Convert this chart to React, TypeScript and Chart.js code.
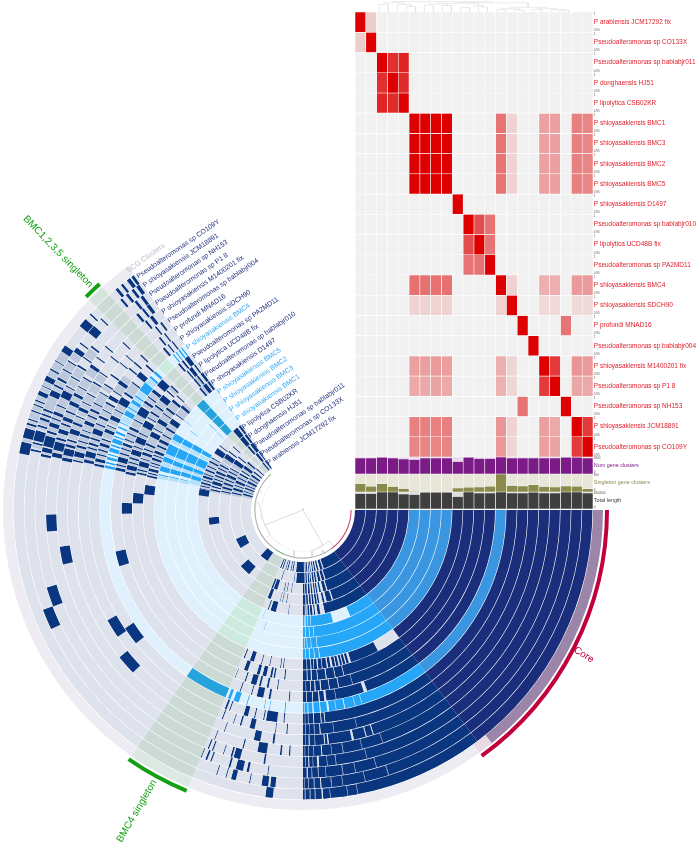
import React, { useEffect, useRef } from "react";
import { Chart, registerables } from "chart.js";

Chart.register(...registerables);

const FONT = '"Liberation Sans", Arial, sans-serif';

const genomes = [
  "P arabiensis JCM17292 fix", "Pseudoalteromonas sp CO133X", "Pseudoalteromonas sp bablabjr011", "P donghaensis HJ51",
  "P lipolytica CSB02KR", "P shioyasakiensis BMC1", "P shioyasakiensis BMC3", "P shioyasakiensis BMC2",
  "P shioyasakiensis BMC5", "P shioyasakiensis D1497", "Pseudoalteromonas sp bablabjr010", "P lipolytica UCD48B fix",
  "Pseudoalteromonas sp PA2MD11", "P shioyasakiensis BMC4", "P shioyasakiensis SDCH90", "P profundi MNAD16",
  "Pseudoalteromonas sp bablabjr004", "P shioyasakiensis M1400201 fix", "Pseudoalteromonas sp P1 8", "Pseudoalteromonas sp NH153",
  "P shioyasakiensis JCM18891", "Pseudoalteromonas sp CO109Y",
];
const highlighted = [5, 6, 7, 8, 13];

const similarity = [
  [1, .15, 0, 0, 0, 0, 0, 0, 0, 0, 0, 0, 0, 0, 0, 0, 0, 0, 0, 0, 0, 0],
  [.15, 1, 0, 0, 0, 0, 0, 0, 0, 0, 0, 0, 0, 0, 0, 0, 0, 0, 0, 0, 0, 0],
  [0, 0, 1, .8, .85, 0, 0, 0, 0, 0, 0, 0, 0, 0, 0, 0, 0, 0, 0, 0, 0, 0],
  [0, 0, .8, 1, .82, 0, 0, 0, 0, 0, 0, 0, 0, 0, 0, 0, 0, 0, 0, 0, 0, 0],
  [0, 0, .85, .82, 1, 0, 0, 0, 0, 0, 0, 0, 0, 0, 0, 0, 0, 0, 0, 0, 0, 0],
  [0, 0, 0, 0, 0, 1, 1, 1, 1, 0, 0, 0, 0, .52, .13, 0, 0, .33, .33, 0, .47, .45],
  [0, 0, 0, 0, 0, 1, 1, 1, 1, 0, 0, 0, 0, .52, .13, 0, 0, .33, .33, 0, .47, .45],
  [0, 0, 0, 0, 0, 1, 1, 1, 1, 0, 0, 0, 0, .52, .13, 0, 0, .33, .33, 0, .47, .45],
  [0, 0, 0, 0, 0, 1, 1, 1, 1, 0, 0, 0, 0, .52, .13, 0, 0, .33, .33, 0, .47, .45],
  [0, 0, 0, 0, 0, 0, 0, 0, 0, 1, 0, 0, 0, 0, 0, 0, 0, 0, 0, 0, 0, 0],
  [0, 0, 0, 0, 0, 0, 0, 0, 0, 0, 1, .68, .52, 0, 0, 0, 0, 0, 0, 0, 0, 0],
  [0, 0, 0, 0, 0, 0, 0, 0, 0, 0, .68, 1, .52, 0, 0, 0, 0, 0, 0, 0, 0, 0],
  [0, 0, 0, 0, 0, 0, 0, 0, 0, 0, .52, .52, 1, 0, 0, 0, 0, 0, 0, 0, 0, 0],
  [0, 0, 0, 0, 0, .53, .53, .53, .53, 0, 0, 0, 0, 1, .13, 0, 0, .28, .28, 0, .36, .36],
  [0, 0, 0, 0, 0, .13, .13, .13, .13, 0, 0, 0, 0, .13, 1, 0, 0, .1, .1, 0, .1, .1],
  [0, 0, 0, 0, 0, 0, 0, 0, 0, 0, 0, 0, 0, 0, 0, 1, 0, 0, 0, .52, 0, 0],
  [0, 0, 0, 0, 0, 0, 0, 0, 0, 0, 0, 0, 0, 0, 0, 0, 1, 0, 0, 0, 0, 0],
  [0, 0, 0, 0, 0, .34, .34, .36, .34, 0, 0, 0, 0, .28, .11, 0, 0, 1, .76, 0, .38, .36],
  [0, 0, 0, 0, 0, .3, .3, .32, .3, 0, 0, 0, 0, .26, .11, 0, 0, .76, 1, 0, .31, .3],
  [0, 0, 0, 0, 0, 0, 0, 0, 0, 0, 0, 0, 0, 0, 0, .52, 0, 0, 0, 1, 0, 0],
  [0, 0, 0, 0, 0, .47, .47, .47, .47, 0, 0, 0, 0, .38, .13, 0, 0, .34, .3, 0, 1, .76],
  [0, 0, 0, 0, 0, .45, .45, .45, .45, 0, 0, 0, 0, .37, .11, 0, 0, .34, .32, 0, .76, 1],
];

const numGeneClusters = [94, 94, 98, 94, 88, 86, 94, 94, 94, 73, 98, 92, 92, 100, 94, 94, 94, 94, 94, 98, 98, 94];
const singletonClusters = [46, 32, 46, 30, 20, 1, 0, 0, 0, 22, 26, 28, 32, 100, 36, 34, 40, 30, 28, 34, 32, 18];
const totalLength = [91, 91, 100, 100, 89, 85, 98, 98, 98, 74, 100, 94, 94, 100, 94, 94, 98, 94, 94, 100, 100, 94];

// [left column, left height, right column, right height, joint height]
const dendrogram = [
  [0.5, 0, 1.5, 0, 7.5], [3.5, 0, 4.5, 0, 5.5], [2.5, 0, 4, 5.5, 7.5], [1, 7.5, 3.2, 7.5, 9.4],
  [5.5, 0, 6.5, 0, 7], [7.5, 0, 8.5, 0, 6.5], [6, 7, 8, 6.5, 8.2], [9.5, 0, 10.5, 0, 4.5],
  [11.5, 0, 12.5, 0, 5], [11, 4.5, 12, 5, 6.5], [7, 8.2, 11.5, 6.5, 8.8], [13.5, 0, 14.5, 0, 2.5],
  [15.5, 0, 16.5, 0, 2], [14, 2.5, 16, 2, 3.2], [17.5, 0, 18.5, 0, 2.5], [20.5, 0, 21.5, 0, 1.5],
  [19.5, 0, 21, 1.5, 2.4], [18, 2.5, 20.2, 2.4, 3.4], [15, 3.2, 19, 3.4, 4.6], [9, 8.8, 17, 4.6, 9.2], [2, 9.4, 13, 9.2, 10.4],
];

// Inside the core band: where each genome has no gene cluster (start degree, width).
const ringGaps = [
  [[70.5, 1], [74, 1.5], [77, 1.2], [79.5, 1], [81.5, 1.2], [83.5, .7], [85, 1], [87, .6], [88.5, .6]],
  [[72, .8], [75, 1], [78, 1.2], [80.5, .7], [82.5, 1], [84.3, .6], [86, .8], [88, .7]],
  [[73, .8], [76, 1.6], [78.8, 1.2], [81, .6], [82.5, 1], [84.5, .7], [86.5, .8], [88.5, .5]],
  [[71.5, .7], [75.5, 1.3], [78, 2], [81, .5], [82.7, .7], [84.5, .6], [86.2, .7], [88, .5]],
  [[78, 2.5], [82, 1.3], [84, .8], [86, .5], [87.5, .6], [88.6, .4]],
  [[66, 9], [86, .2], [87.6, .2], [88.6, .2], [89.3, .2]],
  [[85, .2], [87, .2], [88.8, .2]],
  [[84, .2], [86.5, .2], [88.2, .2], [89.2, .2]],
  [[83.5, .2], [85.5, .2], [87.4, .2], [88.8, .2]],
  [[53, 9], [72.5, .8], [74.2, .4], [75.5, .3], [76.6, .5], [78, .3], [79.3, .7], [81, .4], [83, .2], [84.5, .4], [86, .2], [87, .3], [88.5, .2]],
  [[76, .2], [79, .2], [82, .3], [85, .2], [87, .3], [88.5, .2]],
  [[74, .15], [78.5, .2], [81.5, .2], [84.2, .3], [86, .3], [87.5, .2], [89, .15]],
  [[70.5, 1], [80, .15], [83, .6], [85, .3], [87, .2], [88.8, .2]],
  [[73, .15], [75, .15], [78, .2], [80.5, .15], [82.6, .5], [85, .2], [87, .3], [88.5, .2], [89.5, .15]],
  [[84, .2], [85, .2], [87, .2], [88.5, .15], [89.4, .1]],
  [[76, .1], [82, .1], [85.5, .2], [87, .15], [88.2, .1], [89.3, .15]],
  [[72.5, .2], [74.3, .2], [77.5, .5], [83.7, .3], [84.6, .2], [87, .15], [88.4, .2], [89.4, .1]],
  [[71, .1], [76, .1], [80.5, .15], [83.2, .1], [85.5, .2], [87.4, .15], [88.6, .15], [89.5, .1]],
  [[75.5, .1], [82.5, .15], [84.5, .1], [86.4, .4], [87.7, .1], [88.6, .2], [89.4, .15]],
  [[74, .1], [78.6, .1], [81.3, .15], [85, .1], [86.6, .15], [88, .15], [89, .2]],
  [[72, .15], [77, .1], [81.7, .1], [84, .15], [86.2, .2], [87.6, .15], [88.8, .15], [89.6, .1]],
  [[79, .1], [81, .1], [84.5, .1], [86, .25], [87.5, .15], [88.5, .15], [89.5, .15]],
];

// Outside the core band: where each genome has gene clusters (start degree, width).
const ringMarks = [
  [[90, 6.5], [99, 1], [101, .8], [104, 1], [106, .7], [108.7, 1], [110.7, 1], [125, 8], [194, 1.5], [197, 1], [200, 1.5], [203, 1], [206, 2], [210, 1], [213, 2], [217, 1.5], [221, 1], [229, 1.5], [232, 1.5]],
  [[90, 5.5], [97, .5], [107, .6], [148.7, 8], [193, 1.2], [196, 2], [199.5, 1], [202, 2], [206, 1], [209, 1.5], [212, 1], [215, 2.5], [220, 1.5], [229.5, 2], [232.5, 1]],
  [[98, .4], [101, .5], [103, .5], [108, 2.5], [111, 1.2], [130, 8], [192.5, 1], [195, 1.5], [198, 1.5], [201, 1], [203.5, 2], [207, 1], [209.5, .8], [213.8, 3.2], [219, .8], [228.5, 1.5], [231, 2.5]],
  [[100, .4], [102.5, .4], [104, .3], [110, 2], [171, 4.5], [192, 1], [194, 1], [196, 2], [199, .7], [201, 1], [203, 1.5], [206, .8], [208, 1], [213.5, 3], [218, .8], [222, .6], [228.3, 2.8], [232, 1.4]],
  [[98, .3], [105, 3], [109, .6], [188, 4], [193, .7], [194.5, 1], [196.5, .6], [198, 1.3], [200, .6], [202, 1], [204.5, .7], [207, 1], [209.5, .6], [212.7, 3.3], [217.5, .6], [228.5, 3], [232.4, 1.2]],
  [[110.5, .2], [195.5, 2], [198.8, .3], [199.2, 1.8], [202.6, 4], [209, 2.1], [222, .2], [224.5, 3.5]],
  [[108, .2], [195.6, 2], [194, .4], [199, 2], [202.6, 4], [208.8, 2.4], [222.3, .3], [224.5, 3.5]],
  [[195.4, 2], [193.8, .5], [199, 2], [202.5, 4], [208.6, 2.4], [215, .2], [224.5, 3.5]],
  [[195.3, 2], [193.6, .5], [199.2, 2], [202.4, 4], [208.4, 2.6], [217, .2], [224.5, 3.5]],
  [[97, .3], [98, .3], [102, .3], [105, .3], [108, 1.5], [111.5, .4], [185.7, 3.4], [192, .7], [193.2, .5], [194.2, 1.1], [196, .4], [197, .5], [198.4, .9], [200, .4], [201, 1], [203.5, .7], [205.3, 1.1], [208, .5], [210.5, .8], [213, 2], [216.8, .4], [220, 1], [229.5, .7], [231.2, 1.4], [233.2, .8]],
  [[96, .4], [99.5, .5], [100.5, .7], [102.5, 1.3], [104.8, 1], [109, 1.3], [182.3, 3.5], [192.3, .6], [193.5, .5], [195, 1.8], [197.5, .4], [199, 1], [200.8, .5], [202.5, .7], [205.7, 1.8], [208.5, .4], [211, 1.5], [214.5, .4], [216.3, .8], [219.6, .9], [222, .4], [230, .6], [231.5, .6], [233, 1]],
  [[98, .3], [101, .6], [103.5, .6], [105, 1.8], [108.5, .4], [112, .2], [178.8, 3.5], [191.5, .8], [193, 1.5], [195.2, .4], [196.5, .6], [198, 1.7], [200.5, .4], [202, 2], [205, .4], [207.5, 2.2], [210.7, .4], [212.5, .6], [215, .6], [217.5, 2], [221, .5], [223, .5], [230, .5], [231, 1.2], [233, .5]],
  [[94, .3], [99.8, .6], [102, 2], [105.5, .3], [109, .3], [163, 4.5], [192, .9], [193.5, .4], [194.6, 1.6], [197, .5], [198.6, .4], [199.8, .8], [201.5, .4], [203.5, .4], [205, .8], [208, .4], [210, 2.6], [214, .8], [216, .4], [218, 1], [220.5, 2.4], [229.4, .6], [230.8, .6], [232, 1.4]],
  [[95, .3], [99.5, .2], [101, .2], [106, .3], [108.5, 1.6], [111, .8], [112.5, 12.5], [192, .8], [193.3, .5], [194.5, .8], [195.8, .4], [196.8, 1.2], [198.5, .5], [199.5, 1.3], [201.2, .4], [202.3, .7], [204, .5], [205.5, .3], [208, 1.5], [210.3, .4], [212, 1], [214, .5], [216.3, 2.7], [220.8, .6], [222.5, .8], [230, .4], [231, .4], [232, .5], [233, .4]],
  [[95, .3], [97, 3], [100.5, .3], [103, .3], [105, 1.2], [110, .3], [111, .5], [141.4, 5], [192, .6], [193.2, .9], [195, .4], [196.3, .4], [197.6, .8], [199.3, .4], [201.5, .9], [203.3, .3], [205.2, 1.2], [208, .3], [210, 2], [213, .6], [216.6, .4], [218.8, 1.6], [222.5, .5], [229, .6], [230.6, .4], [232, .4]],
  [[94, .3], [97, .2], [102.5, 1.3], [106, .4], [108, .2], [111, .3], [145.6, 5], [192.3, .8], [193.8, 1.5], [196, .4], [197, .6], [198.5, .5], [200, 1.4], [202.5, .4], [204.3, .7], [206.5, .3], [208.4, .5], [209.8, 1], [212, .3], [214.4, 1], [219, .4], [221, .4], [223.5, .4], [230, .5], [231.7, .4]],
  [[97, .5], [100.5, 1.6], [109.5, .2], [136.3, 5], [192, .4], [193.2, 1.3], [195.5, .6], [197, .3], [198.4, .6], [199.8, .3], [201.5, .9], [203.6, .4], [205, .6], [207, .3], [210, .3], [212.2, .4], [215, .4], [218.7, .3], [221, .3], [231, .4], [232.6, .5]],
  [[93, .3], [95, .4], [98.5, 2.2], [104, .3], [111, .2], [167.2, 4.2], [191.6, .8], [193, 1.6], [195, .6], [196.4, .4], [198.2, 1.2], [200.5, .6], [202.4, .3], [204, .8], [206, .3], [208.3, .3], [211.2, .4], [214, .3], [218.5, .3], [222.8, .3], [230, .5], [231.5, .8]],
  [[98.5, .4], [104.2, 1.5], [106, .4], [108, .2], [110.5, .3], [111.5, .3], [175.2, 3.8], [192, 1], [193.6, 1.9], [196, .5], [197.5, 1], [199.5, .4], [200.5, .9], [202.5, .4], [204.3, .9], [206.5, .7], [208.7, .3], [211, .3], [213.8, .8], [216.4, .3], [219.5, .3], [229.5, .6], [231.2, .5], [232.5, .8]],
  [[97.5, .2], [101.7, .5], [103, 1.6], [105.8, .4], [110, .3], [111, .4], [112.3, .2], [158.9, 4.3], [191.6, .5], [192.6, 1], [193.9, 2.3], [196.8, .5], [198.3, .9], [200, .3], [201, .7], [203, .3], [205, 1.6], [207.5, .3], [209.8, .3], [212.5, .4], [214.7, .3], [217.5, .4], [231, .6], [232.6, .7]],
  [[95.7, 1.1], [97.2, 1.4], [101, .2], [104, 1], [106, .2], [108, .2], [154.7, 4.3], [192.3, .4], [193.8, .4], [194.5, 2.2], [197.5, .4], [199, .5], [200, .4], [201, .4], [204.3, 1.3], [206.5, .4], [208, .5], [210.3, .3], [212.3, .3], [214.6, 1.1], [216.7, .3], [219.6, 1.8], [223.3, .3], [229, .5], [230.5, .6], [232, .6], [233.2, .8]],
  [[96, 1.5], [191.3, 2.4], [194.5, 2], [197.2, .4], [198.2, .3], [200, .3], [201.3, .3], [202.2, .3], [203.5, .9], [205.4, .2], [206.6, 1.1], [209, .3], [211, .2], [213.3, 1.4], [219.5, 1.8], [222.5, .3], [229.6, .6], [231, .5], [232.5, .8], [233.6, .6]],
];

// Stretches that read as a mid tone: hairline clusters too fine to separate (start degree, width).
const ringFaint = [
  [[192, 1.8], [195.6, 1.3], [198.1, 1.8], [201.6, 1.3], [204.1, 1.8], [208.1, 1.8], [211.1, 1.8], [228, 1]],
  [[191.5, 1.4], [194.3, 1.6], [198.1, 1.3], [200.6, 1.3], [204.1, 1.8], [207.1, 1.8], [213.1, 1.8], [218, 1.8]],
  [[191, 1.4], [193.6, 1.3], [196.6, 1.3], [199.6, 1.3], [202.1, 1.3], [205.6, 1.3], [208.1, 1.3], [211, 2.7]],
  [[191, .9], [195.1, .8], [198.1, .8], [199.8, 1.1], [202.1, .8], [204.6, 1.3], [206.9, 1], [209.1, 1.5], [211, 2.4]],
  [[191.5, 1.4], [193.8, .6], [195.6, .8], [197.2, .7], [199.4, .5], [200.7, 1.2], [203.1, 1.3], [205.3, 1.6], [208.1, 1.3]],
  [[193, 2.4], [197.6, 1.1], [201.1, 1.4], [207, 1.6]],
  [[192.5, 1.4], [197.7, 1.2], [201.1, 1.4], [207, 1.6]],
  [[192.4, 1.3], [197.5, 1.4], [201.1, 1.3], [207, 1.5]],
  [[192.2, 1.3], [197.4, 1.7], [201.3, 1], [207, 1.3]],
  [[192.8, .3], [193.8, .3], [196.5, .4], [197.6, .7], [199.4, .5], [200.5, .4], [202.1, 1.3], [204.3, 1], [206.5, 1.4], [208.6, 1.8], [211.4, 1.5], [217.3, 2.6], [221.1, 1], [230.3, .8], [232.7, .4]],
  [[192.9, .5], [194.1, .8], [197, .4], [198, .9], [200.1, .6], [201.4, 1], [203.3, 2.3], [208, .4], [209, 1.9], [212.6, 1.8], [215, 1.2], [217.2, 2.3], [230.7, .7]],
  [[192.4, .5], [194.6, .6], [195.7, .7], [197.2, .7], [199.8, .7], [201, 1], [204.1, .8], [205.5, 1.9], [210.2, .5], [211.2, 1.2], [213.2, 1.7], [215.7, 1.7], [222, .9]],
  [[193, .5], [194, .5], [196.3, .6], [197.6, .9], [199, .7], [201, .5], [202, 1.4], [204, .9], [206, 1.9], [208.5, 1.4], [213, 1], [215, .9], [216.5, 1.4]],
  [[209.6, .7], [210.8, 1.1], [213.1, .8], [214.6, 1.6], [206, 1.8], [219.2, 1.5]],
  [[192.7, .4], [194.3, .6], [195.5, .8], [196.8, .7], [198.5, .7], [200, 1.4], [202.5, .7], [204, 1.1], [206.6, 1.3], [208.4, 1.5], [213.7, 2.8]],
  [[193, .7], [195.4, .5], [196.5, .4], [197.7, .7], [199.1, .8], [201.5, .9], [203, 1.2], [205.2, 1.2], [207, 1.3], [212.4, 1.9], [215.5, 1.5]],
  [[192.5, .6], [194.6, .8], [196.2, .7], [197.4, .9], [199.1, .6], [200.2, 1.2], [202.5, 1.1], [204.1, .8], [205.7, 1.2], [207.4, 2.5], [211, 1.1]],
  [[192.5, .4], [194.7, .2], [195.7, .6], [197, 1.1], [199.5, .9], [201, 1.3], [203, .9], [205, .9], [206.4, 1.8], [209, 2], [212, 1.8]],
  [[193.1, .4], [195.6, .3], [196.6, .8], [198.6, .8], [200, .4], [201.5, .9], [203, 1.2], [205.3, 1.1], [207.3, 1.3], [209.2, 1.7], [212, 1.7]],
  [[192.2, .3], [196.3, .4], [197.4, .8], [199.3, .6], [200.4, .5], [201.8, 1.1], [203.4, 1.5], [206.7, .7], [208, 1.6], [210.3, 2], [215.2, 2]],
  [[193, .7], [197, .4], [198, 1], [199.6, .3], [200.5, .4], [201.5, 2.7], [205.7, .7], [207, .9], [208.6, 1.6], [210.7, 1.5], [213, 1.5]],
  [[193.8, .6], [196.6, .5], [197.7, .4], [198.6, 1.3], [200.4, .8], [201.7, .4], [202.6, .8], [204.5, .8], [205.7, .8], [207.8, 1.1], [209.4, 1.5], [211.3, 1.9]],
];

const coreEnd = 53;
const arcEnd = 234.5;
const bmc4Sector = [112.5, 125];
const bmc1235Sector = [224.5, 228];

const ringWidth = 10.22;
const ringGap = 0.6;

// Centre tree branches, in pixels from the centre of the rings.
const treeBranches = [
  [[0, 0], [-38, 15]], [[0, 0], [20, 35]], [[0, -2], [0, 0]], [[-38, 15], [-41, 8]], [[-38, 15], [-33, 24]],
  [[20, 35], [26, 31]], [[20, 35], [9, 41]], [[9, 41], [9, 47]], [[26, 31], [31, 36]], [[-44, -7], [-48, -8]],
  [[-41, 8], [-44, -7]], [[-41, -18], [-45, -20]], [[-9, 41], [-9, 47]], [[-33, 24], [-37, 28]], [[20, 40], [20, 44]],
];

const callouts = [
  { text: "Core", angle: 27.3, radius: 316, rot: 32, color: "#c2003c", size: 10 },
  { text: "BMC4 singleton", angle: 118.9, radius: 344, rot: -60, color: "#13a013", size: 10 },
  { text: "BMC1,2,3,5 singleton", angle: 226.5, radius: 356, rot: 46, color: "#13a013", size: 10 },
  { text: "SCG Clusters", angle: 238, radius: 297, rot: -35.5, color: "#bdbbc9", size: 7.5 },
];

const rowTrackLabels = [
  { text: "Num gene clusters", axis: "yNum", color: "#7a1b86", top: "4800", bottom: "0" },
  { text: "Singleton gene clusters", axis: "ySing", color: "#8b8a4d", top: "900", bottom: "0" },
  { text: "Total length", axis: "yLen", color: "#3f3f3f", top: "4800000", bottom: "0" },
];

function within(v: number, list: number[][]) {
  return list.some(([s, w]) => v >= s && v < s + w);
}

const flatRing = { borderWidth: 0, borderColor: "rgba(0,0,0,0)" };

function buildRing(i: number) {
  const blue = highlighted.includes(i);
  const gaps = ringGaps[i];
  const marks = ringMarks[i];
  const faint = ringFaint[i];
  const edges = new Set<number>([0, coreEnd, 90, bmc4Sector[0], bmc4Sector[1], bmc1235Sector[0], bmc1235Sector[1], arcEnd, 360]);
  gaps.concat(marks, faint).forEach(([s, w]) => { edges.add(s); edges.add(s + w); });
  const sorted = [...edges].sort((a, b) => a - b);
  const data: number[] = [];
  const colors: string[] = [];
  for (let k = 0; k < sorted.length - 1; k++) {
    const a = sorted[k], b = sorted[k + 1], mid = (a + b) / 2;
    data.push(b - a);
    if (mid >= arcEnd) { colors.push("rgba(0,0,0,0)"); continue; }
    const green = (mid >= bmc4Sector[0] && mid < bmc4Sector[1]) || (mid >= bmc1235Sector[0] && mid < bmc1235Sector[1]);
    const on = mid < 90 ? !within(mid, gaps) : within(mid, marks);
    if (on) {
      if (blue) colors.push(green ? "#26a3dc" : mid < coreEnd ? "#3a96e0" : "#25a6f6");
      else colors.push(mid < coreEnd ? "#1a2e7c" : "#0a3680");
    } else if (within(mid, faint)) colors.push(blue ? "#b4e0fb" : "#bcc8dc");
    else if (mid < 90 && b - a <= 0.2) colors.push(blue ? "#8fd0fa" : "#6f8ab8");
    else if (green) colors.push(blue ? "#cdeade" : "#ccdad5");
    else colors.push(blue ? "#dff1fd" : "#dde2ec");
  }
  return { ...flatRing, data, backgroundColor: colors, weight: ringWidth, ringIndex: i };
}

function flat(weight: number) {
  return { ...flatRing, data: [360], backgroundColor: ["rgba(0,0,0,0)"], weight };
}

function sectors(list: [number, string][], weight: number) {
  return { ...flatRing, data: list.map((d) => d[0]), backgroundColor: list.map((d) => d[1]), weight };
}

function ringDatasets() {
  const out: any[] = [];
  out.push(sectors([[54, "#c2003c"], [58.5, "rgba(0,0,0,0)"], [12.5, "#13a013"], [99.5, "rgba(0,0,0,0)"], [3.5, "#13a013"], [132, "rgba(0,0,0,0)"]], 4));
  out.push(flat(2));
  out.push(sectors([[51, "#9b85a8"], [3, "#ead8e3"], [58.5, "#edecf3"], [12.5, "#dce8e2"], [99.5, "#edecf3"], [3.5, "#d5e4da"], [6.5, "#edecf3"], [125.5, "rgba(0,0,0,0)"]], 10));
  for (let i = genomes.length - 1; i >= 0; i--) {
    out.push(flat(ringGap));
    out.push(buildRing(i));
  }
  out.push(flat(3.4));
  out.push(sectors([[54, "#c43d66"], [58.5, "#a8a8a8"], [12.5, "#5aa85a"], [99.5, "#a8a8a8"], [3.5, "#5aa85a"], [132, "rgba(0,0,0,0)"]], 1));
  out.push(flat(6));
  out.push(sectors([[60, "rgba(0,0,0,0)"], [160, "#e8e8e8"], [140, "rgba(0,0,0,0)"]], 0.6));
  return out;
}

function heatColor(v: number) {
  const from = [241, 241, 241], to = [222, 0, 0];
  const c = from.map((f, i) => Math.round(f + (to[i] - f) * v));
  return `rgb(${c[0]},${c[1]},${c[2]})`;
}

export default function App() {
  const ringRef = useRef<HTMLCanvasElement>(null);
  const heatRef = useRef<HTMLCanvasElement>(null);
  const treeRef = useRef<HTMLCanvasElement>(null);

  useEffect(() => {
    const radialText = {
      id: "radialText",
      afterDatasetsDraw(chart: any) {
        const ctx = chart.ctx;
        const first = chart.getDatasetMeta(0).data[0];
        const cx = first.x, cy = first.y;
        chart.data.datasets.forEach((ds: any, index: number) => {
          if (ds.ringIndex === undefined) return;
          const arc = chart.getDatasetMeta(index).data[0];
          const r = (arc.innerRadius + arc.outerRadius) / 2;
          const t = (arcEnd + 0.6) * Math.PI / 180;
          const i = ds.ringIndex;
          ctx.save();
          ctx.translate(cx + r * Math.cos(t), cy + r * Math.sin(t));
          ctx.rotate(-34.5 * Math.PI / 180);
          ctx.font = `6.9px ${FONT}`;
          ctx.textBaseline = "middle";
          ctx.textAlign = "left";
          ctx.fillStyle = highlighted.includes(i) ? "#2ea7f5" : "#1e2f7c";
          ctx.fillText(genomes[i], -2.5, -1.5);
          ctx.restore();
        });
        callouts.forEach((c) => {
          const t = c.angle * Math.PI / 180;
          ctx.save();
          ctx.translate(cx + c.radius * Math.cos(t), cy + c.radius * Math.sin(t));
          ctx.rotate(c.rot * Math.PI / 180);
          ctx.font = `${c.size}px ${FONT}`;
          ctx.textAlign = "center";
          ctx.textBaseline = "middle";
          ctx.fillStyle = c.color;
          ctx.fillText(c.text, 0, 0);
          ctx.restore();
        });
      },
    };

    const rings = new Chart(ringRef.current!, {
      type: "doughnut",
      data: { labels: [], datasets: ringDatasets() },
      options: {
        responsive: false,
        devicePixelRatio: 1,
        animation: false,
        events: [],
        rotation: 90,
        circumference: 360,
        cutout: 41,
        layout: { padding: { left: 3, right: 87, top: 204, bottom: 28 } },
        plugins: { legend: { display: false }, tooltip: { enabled: false } },
      } as any,
      plugins: [radialText],
    } as any);

    const heatText = {
      id: "heatText",
      afterDatasetsDraw(chart: any) {
        const ctx = chart.ctx;
        const x = chart.chartArea.right + 0.8;
        const y = chart.scales.yHeat;
        ctx.save();
        ctx.textAlign = "left";
        ctx.textBaseline = "middle";
        genomes.forEach((name, r) => {
          ctx.font = `6.5px ${FONT}`;
          ctx.fillStyle = "#e0202c";
          ctx.fillText(name, x, y.getPixelForValue(r + 0.5));
          ctx.font = `3px ${FONT}`;
          ctx.fillStyle = "#555";
          ctx.fillText("1", x, y.getPixelForValue(r) + 2);
          ctx.fillText("0.95", x, y.getPixelForValue(r + 1) - 2);
        });
        rowTrackLabels.forEach((t) => {
          const s = chart.scales[t.axis];
          ctx.font = `5.4px ${FONT}`;
          ctx.fillStyle = t.color;
          ctx.fillText(t.text, x, (s.top + s.bottom) / 2);
          ctx.font = `3px ${FONT}`;
          ctx.fillStyle = "#555";
          ctx.fillText(t.top, x, s.top + 1.5);
          ctx.fillText(t.bottom, x, s.bottom - 1.5);
        });
        ctx.restore();
      },
    };

    const cell = { borderColor: "#ffffff", borderWidth: 0.6, borderSkipped: false, barPercentage: 1, categoryPercentage: 1, grouped: false };
    const track = (values: number[], axis: string, fg: string, bg: string, max: number) => [
      { ...cell, type: "bar", yAxisID: axis, data: values.map((v) => [0, v]), backgroundColor: fg, order: 1 },
      { ...cell, type: "bar", yAxisID: axis, data: values.map(() => [0, max]), backgroundColor: bg, order: 2 },
    ];
    const hidden = { grid: { display: false }, border: { display: false }, ticks: { display: false }, afterFit: (s: any) => { s.width = 0; } };
    const heat = new Chart(heatRef.current!, {
      type: "bar",
      data: {
        labels: genomes,
        datasets: [
          ...similarity.map((row, r) => ({
            ...cell, type: "bar", yAxisID: "yHeat", data: row.map(() => [r, r + 1]), backgroundColor: row.map(heatColor),
          })),
          ...track(numGeneClusters, "yNum", "#7a1b86", "#e8d9eb", 100),
          ...track(singletonClusters, "ySing", "#8b8a4d", "#e8e6d8", 100),
          ...track(totalLength, "yLen", "#3f3f3f", "#dcdcdc", 100),
          ...dendrogram.map(([x1, h1, x2, h2, top]) => ({
            type: "line", xAxisID: "xd", yAxisID: "yDend", borderColor: "#e2e2e2", borderWidth: 0.7, pointRadius: 0, tension: 0,
            data: [{ x: x1, y: h1 }, { x: x1, y: top }, { x: x2, y: top }, { x: x2, y: h2 }],
          })),
        ],
      } as any,
      options: {
        responsive: false,
        devicePixelRatio: 1,
        animation: false,
        events: [],
        layout: { padding: { left: 355, right: 103, top: 1, bottom: 335 } },
        plugins: { legend: { display: false }, tooltip: { enabled: false } },
        scales: {
          x: { display: false },
          xd: { type: "linear", display: false, min: 0, max: 22 },
          yDend: { ...hidden, stack: "s", stackWeight: 11, min: 0, max: 11, weight: 5, position: "left" },
          yHeat: { ...hidden, stack: "s", stackWeight: 445, min: 0, max: 22, reverse: true, weight: 4, position: "left" },
          yNum: { ...hidden, stack: "s", stackWeight: 17, min: 0, max: 100, weight: 3, position: "left" },
          ySing: { ...hidden, stack: "s", stackWeight: 18, min: 0, max: 100, weight: 2, position: "left" },
          yLen: { ...hidden, stack: "s", stackWeight: 17, min: 0, max: 100, weight: 1, position: "left" },
        },
      } as any,
      plugins: [heatText],
    } as any);

    const tree = new Chart(treeRef.current!, {
      type: "scatter",
      data: {
        datasets: treeBranches.map((b) => ({
          showLine: true, borderColor: "#d4d4d4", borderWidth: 0.8, pointRadius: 0,
          data: b.map(([x, y]) => ({ x, y })),
        })),
      },
      options: {
        responsive: false,
        devicePixelRatio: 1,
        animation: false,
        events: [],
        layout: { padding: 0 },
        plugins: { legend: { display: false }, tooltip: { enabled: false } },
        scales: {
          x: { type: "linear", min: -52, max: 52, display: false },
          y: { type: "linear", min: -52, max: 52, reverse: true, display: false },
        },
      } as any,
    } as any);

    return () => { rings.destroy(); heat.destroy(); tree.destroy(); };
  }, []);

  const fixed = (left: number, top: number): React.CSSProperties => ({ position: "fixed", left, top, display: "block" });
  return (
    <div>
      <canvas ref={ringRef} width={702} height={844} style={fixed(-6, 0)} />
      <canvas ref={heatRef} width={696} height={844} style={fixed(0, 0)} />
      <canvas ref={treeRef} width={104} height={104} style={fixed(251, 458)} />
    </div>
  );
}
